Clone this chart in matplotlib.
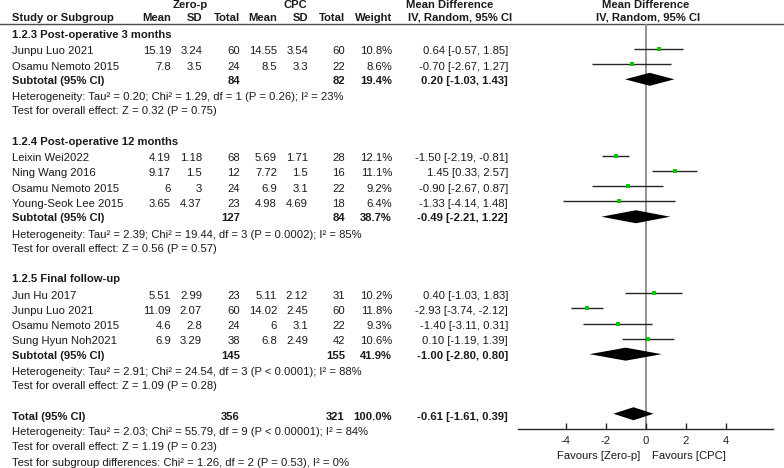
"""
Forest plot: Zero-p vs CPC, mean difference (IV, random, 95% CI),
three follow-up subgroups plus overall total.
"""
import matplotlib
matplotlib.use("Agg")
import matplotlib.pyplot as plt

plt.rcParams["font.family"] = ["Liberation Sans", "DejaVu Sans"]
FS = 8.15

# ---------------- data ----------------
group_titles = ["1.2.3 Post-operative 3 months",
                "1.2.4 Post-operative 12 months",
                "1.2.5 Final follow-up"]

studies  = ["Junpu Luo 2021", "Osamu Nemoto 2015",
            "Leixin Wei2022", "Ning Wang 2016", "Osamu Nemoto 2015", "Young-Seok Lee 2015",
            "Jun Hu 2017", "Junpu Luo 2021", "Osamu Nemoto 2015", "Sung Hyun Noh2021"]
group_of = [0, 0, 1, 1, 1, 1, 2, 2, 2, 2]
zp_mean  = [15.19, 7.8, 4.19, 9.17, 6, 3.65, 5.51, 11.09, 4.6, 6.9]
zp_sd    = [3.24, 3.5, 1.18, 1.5, 3, 4.37, 2.99, 2.07, 2.8, 3.29]
zp_n     = [60, 24, 68, 12, 24, 23, 23, 60, 24, 38]
cpc_mean = [14.55, 8.5, 5.69, 7.72, 6.9, 4.98, 5.11, 14.02, 6, 6.8]
cpc_sd   = [3.54, 3.3, 1.71, 1.5, 3.1, 4.69, 2.12, 2.45, 3.1, 2.49]
cpc_n    = [60, 22, 28, 16, 22, 18, 31, 60, 22, 42]
weight   = [10.8, 8.6, 12.1, 11.1, 9.2, 6.4, 10.2, 11.8, 9.3, 10.6]
md       = [0.64, -0.70, -1.50, 1.45, -0.90, -1.33, 0.40, -2.93, -1.40, 0.10]
md_lo    = [-0.57, -2.67, -2.19, 0.33, -2.67, -4.14, -1.03, -3.74, -3.11, -1.19]
md_hi    = [1.85, 1.27, -0.81, 2.57, 0.87, 1.48, 1.83, -2.12, 0.31, 1.39]

sub_zp_n  = [84, 127, 145]
sub_cpc_n = [82, 84, 155]
sub_w     = [19.4, 38.7, 41.9]
sub_md    = [0.20, -0.49, -1.00]
sub_lo    = [-1.03, -2.21, -2.80]
sub_hi    = [1.43, 1.22, 0.80]
sub_het   = ["Heterogeneity: Tau² = 0.20; Chi² = 1.29, df = 1 (P = 0.26); I² = 23%",
             "Heterogeneity: Tau² = 2.39; Chi² = 19.44, df = 3 (P = 0.0002); I² = 85%",
             "Heterogeneity: Tau² = 2.91; Chi² = 24.54, df = 3 (P < 0.0001); I² = 88%"]
sub_z     = ["Test for overall effect: Z = 0.32 (P = 0.75)",
             "Test for overall effect: Z = 0.56 (P = 0.57)",
             "Test for overall effect: Z = 1.09 (P = 0.28)"]

tot_zp_n, tot_cpc_n, tot_w = 356, 321, 100.0
tot_md, tot_lo, tot_hi = -0.61, -1.61, 0.39
tot_notes = ["Heterogeneity: Tau² = 2.03; Chi² = 55.79, df = 9 (P < 0.00001); I² = 84%",
             "Test for overall effect: Z = 1.19 (P = 0.23)",
             "Test for subgroup differences: Chi² = 1.26, df = 2 (P = 0.53), I² = 0%"]

# ---------------- layout (pixels from top-left) ----------------
ROW0, PITCH = 35.0, 15.27
COL_NAME = 12
COL_R = [171, 202, 240, 277, 308, 345, 392]   # right edges of numeric columns
COL_MD = 508
AXIS_Y, HEAD_Y = 429, 24
PLOT_X0, PLOT_X1 = 518, 773
SQ_GREEN = "#00C800"
LINE_C = "#262626"

fig = plt.figure(figsize=(7.84, 4.68), dpi=100)
ax = fig.add_axes([0, 0, 1, 1])
ax.set_xlim(0, 784)
ax.set_ylim(468, 0)
ax.axis("off")

fp = fig.add_axes([PLOT_X0 / 784, (468 - AXIS_Y) / 468,
                   (PLOT_X1 - PLOT_X0) / 784, (AXIS_Y - HEAD_Y) / 468])
fp.set_xlim(-6.37, 6.35)
fp.set_ylim(AXIS_Y, HEAD_Y)
fp.patch.set_alpha(0)
for s in ("top", "left", "right"):
    fp.spines[s].set_visible(False)
fp.spines["bottom"].set_color(LINE_C)
fp.spines["bottom"].set_linewidth(1.0)
fp.set_yticks([])
fp.set_xticks([-4, -2, 0, 2, 4])
fp.set_xticklabels(["-4", "-2", "0", "2", "4"])
fp.tick_params(axis="x", direction="in", length=4, width=1.0, color=LINE_C,
               pad=5, labelsize=FS, labelcolor="#222222")
fp.axvline(0, color="#8a8a8a", linewidth=1.3, zorder=1)


def txt(x, y, s, ha="left", bold=False):
    ax.text(x, y, s, ha=ha, va="center", fontsize=FS, color="#1a1a1a",
            fontweight="bold" if bold else "normal")


def diamond(y, c, lo, hi, h=6.5):
    fp.fill([lo, c, hi, c], [y, y - h, y, y + h], color="black",
            linewidth=0, zorder=3)


# ---------------- header ----------------
txt(190, 5, "Zero-p", ha="center", bold=True)
txt(295, 5, "CPC", ha="center", bold=True)
txt(450, 5, "Mean Difference", ha="center", bold=True)
txt(646, 5, "Mean Difference", ha="center", bold=True)
txt(COL_NAME, 18, "Study or Subgroup", bold=True)
for x, s in zip(COL_R, ["Mean", "SD", "Total", "Mean", "SD", "Total", "Weight"]):
    txt(x, 18, s, ha="right", bold=True)
txt(460, 18, "IV, Random, 95% CI", ha="center", bold=True)
txt(648, 18, "IV, Random, 95% CI", ha="center", bold=True)
ax.plot([0, 784], [HEAD_Y, HEAD_Y], color="#4d4d4d", linewidth=1.0)

# ---------------- rows ----------------
row = 0
for g, title in enumerate(group_titles):
    y = ROW0 + row * PITCH
    txt(COL_NAME, y, title, bold=True)
    row += 1
    for i in [k for k, gg in enumerate(group_of) if gg == g]:
        y = ROW0 + row * PITCH
        vals = [f"{zp_mean[i]:g}", f"{zp_sd[i]:g}", f"{zp_n[i]}",
                f"{cpc_mean[i]:g}", f"{cpc_sd[i]:g}", f"{cpc_n[i]}",
                f"{weight[i]:.1f}%"]
        txt(COL_NAME, y + 1, studies[i])
        for x, s in zip(COL_R, vals):
            txt(x, y + 1, s, ha="right")
        txt(COL_MD, y + 1, f"{md[i]:.2f} [{md_lo[i]:.2f}, {md_hi[i]:.2f}]", ha="right")
        fp.hlines(y - 1.5, md_lo[i], md_hi[i], color=LINE_C, linewidth=1.0, zorder=2)
        fp.plot(md[i], y - 1.5, marker="s", color=SQ_GREEN, linestyle="none",
                markersize=0.8 * weight[i] ** 0.5 + 0.5, markeredgewidth=0, zorder=4)
        row += 1
    y = ROW0 + row * PITCH
    txt(COL_NAME, y, "Subtotal (95% CI)", bold=True)
    txt(COL_R[2], y, f"{sub_zp_n[g]}", ha="right", bold=True)
    txt(COL_R[5], y, f"{sub_cpc_n[g]}", ha="right", bold=True)
    txt(COL_R[6], y, f"{sub_w[g]:.1f}%", ha="right", bold=True)
    txt(COL_MD, y, f"{sub_md[g]:.2f} [{sub_lo[g]:.2f}, {sub_hi[g]:.2f}]", ha="right", bold=True)
    diamond(y - 1.5, sub_md[g], sub_lo[g], sub_hi[g])
    row += 1
    txt(COL_NAME, ROW0 + row * PITCH + 1, sub_het[g])
    row += 1
    txt(COL_NAME, ROW0 + row * PITCH, sub_z[g])
    row += 2

y = ROW0 + row * PITCH
txt(COL_NAME, y, "Total (95% CI)", bold=True)
txt(COL_R[2], y, f"{tot_zp_n}", ha="right", bold=True)
txt(COL_R[5], y, f"{tot_cpc_n}", ha="right", bold=True)
txt(COL_R[6], y, f"{tot_w:.1f}%", ha="right", bold=True)
txt(COL_MD, y, f"{tot_md:.2f} [{tot_lo:.2f}, {tot_hi:.2f}]", ha="right", bold=True)
diamond(y - 3, tot_md, tot_lo, tot_hi)
for note in tot_notes:
    row += 1
    txt(COL_NAME, ROW0 + row * PITCH, note)

# favours labels under the axis
txt(640, 456, "Favours [Zero-p]", ha="right")
txt(652, 456, "Favours [CPC]", ha="left")

plt.savefig("out.png", dpi=100)
